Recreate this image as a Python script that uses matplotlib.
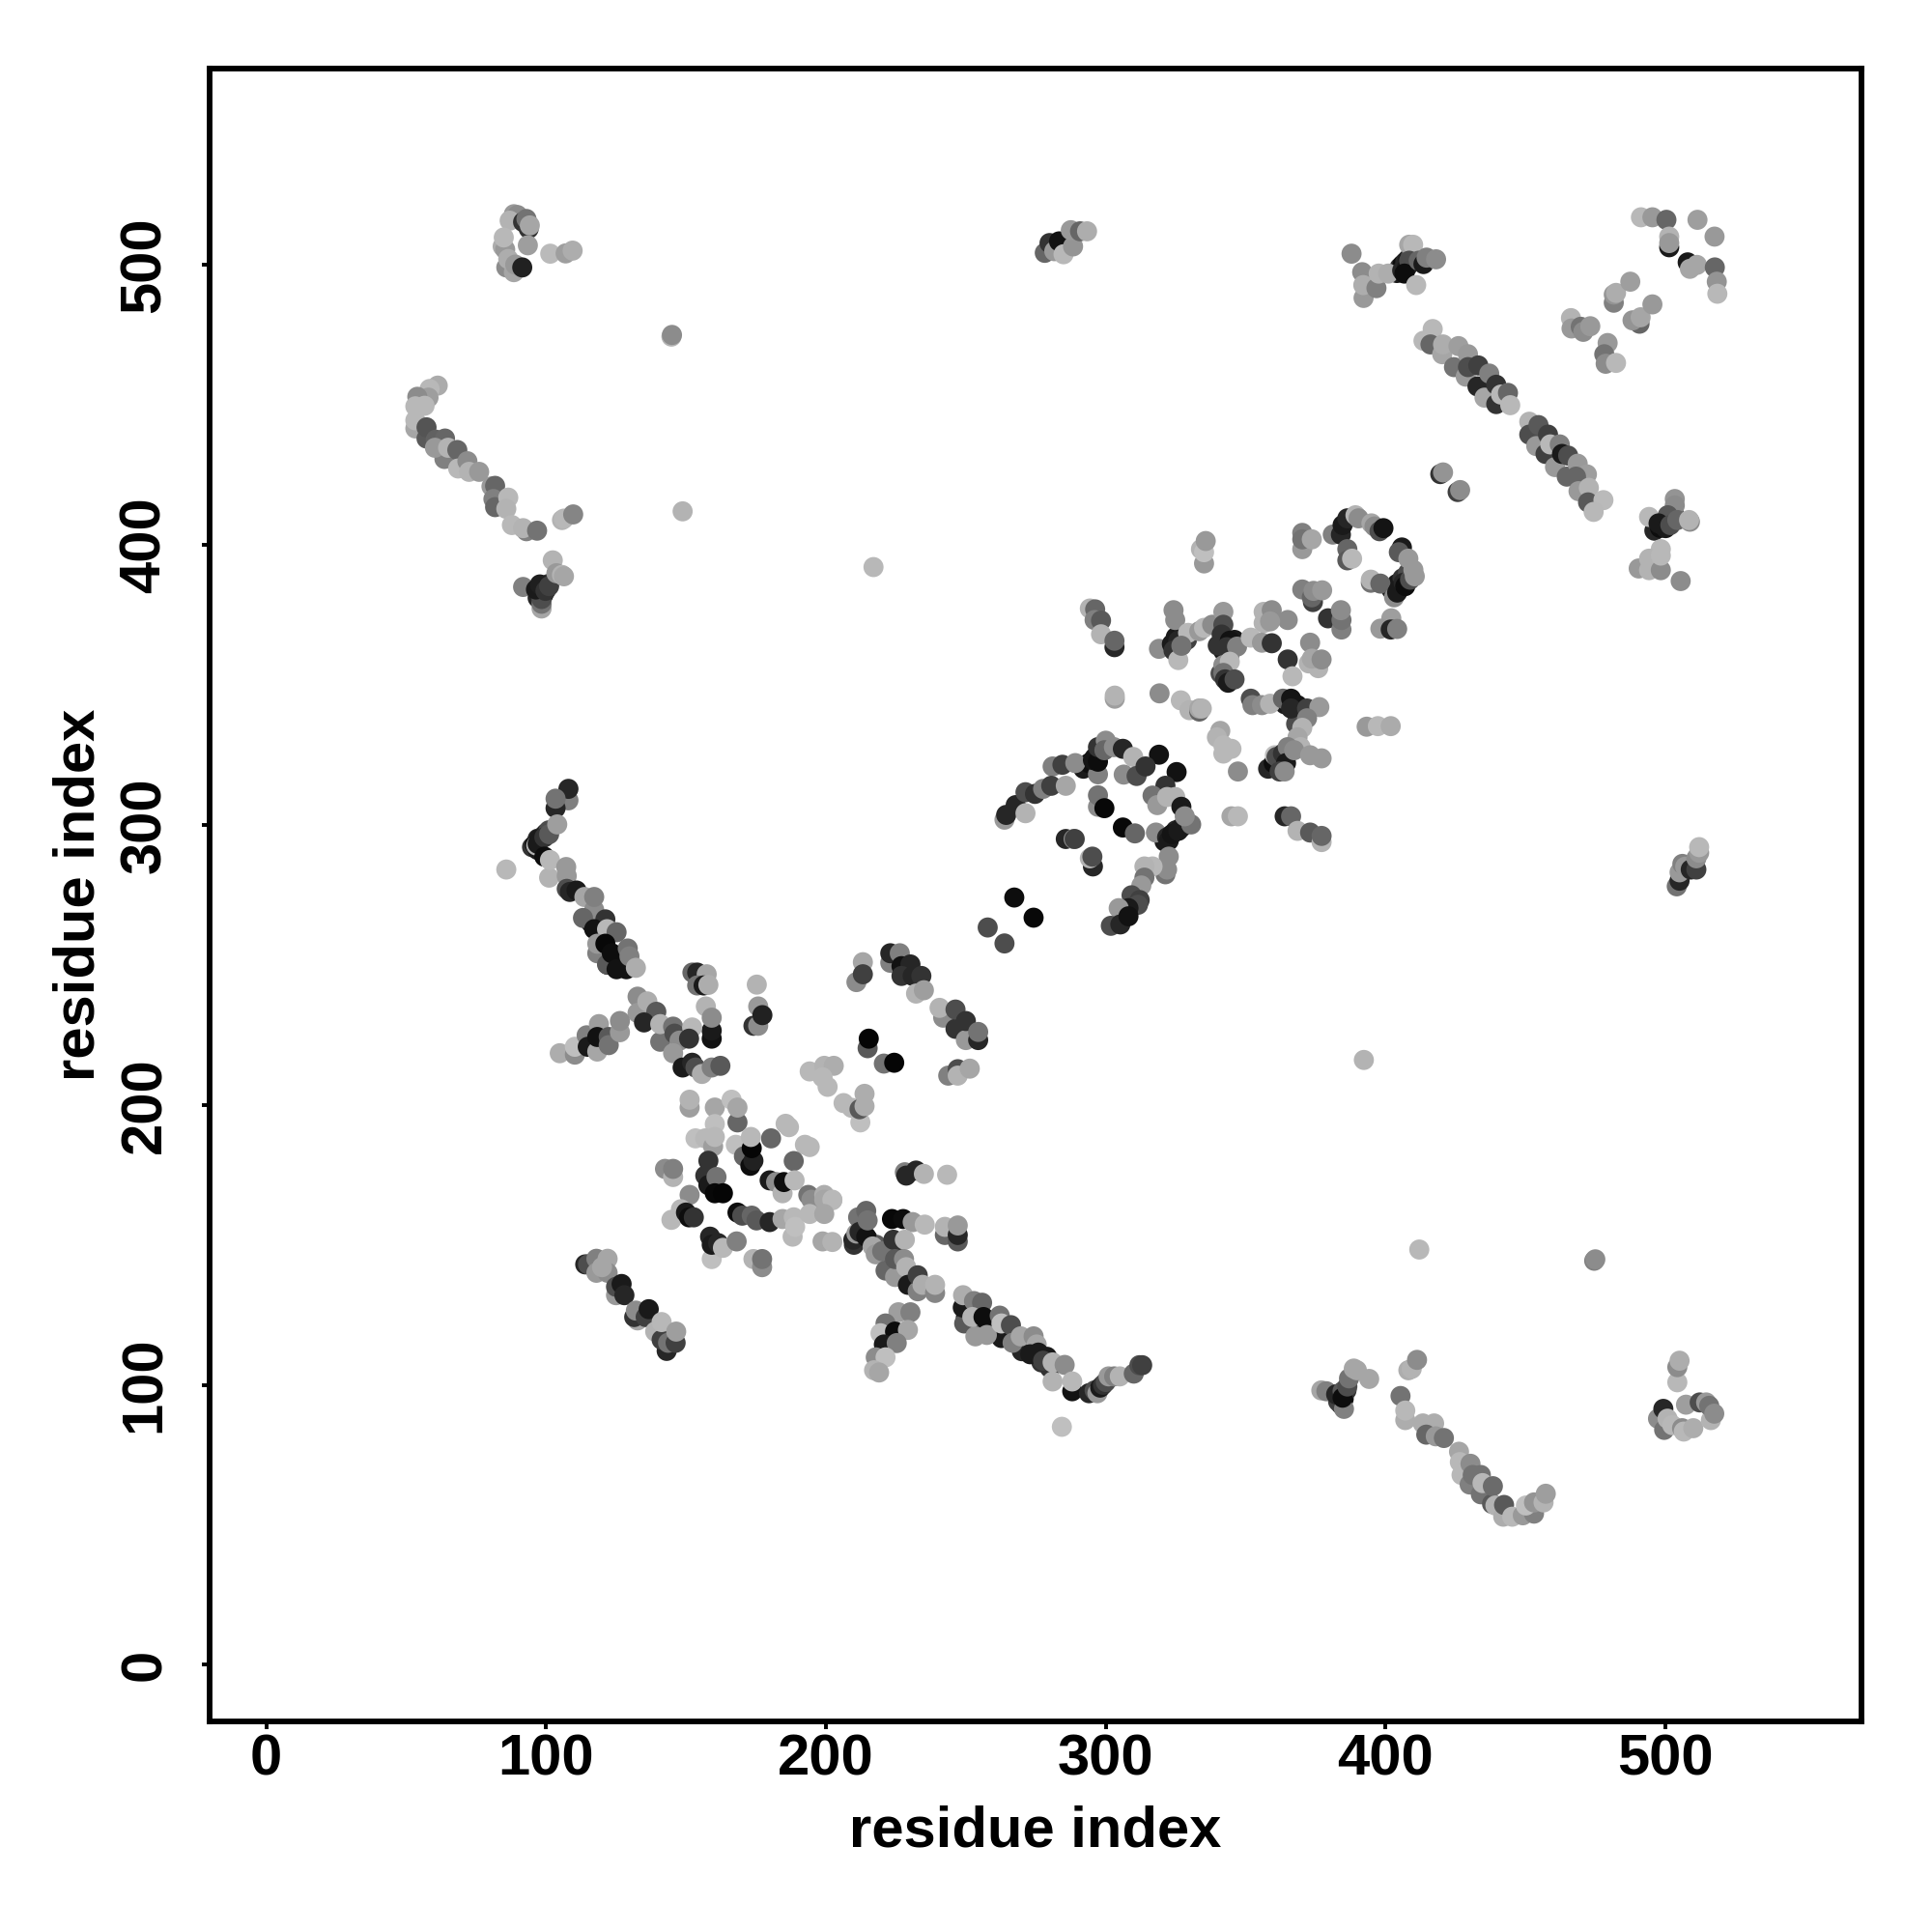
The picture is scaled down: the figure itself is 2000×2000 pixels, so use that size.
import matplotlib
matplotlib.use("Agg")
import matplotlib.pyplot as plt

plt.rcParams['font.family'] = ['Liberation Sans', 'DejaVu Sans']

# (residue i, residue j, grey level), grouped by region
dense_knots = [(95,292,.2),(96,293,.05),(97,295,.15),(98,295,.1),(99,296,.25),(100,297,.15),(101,298,.3),(97,291,.1),
    (404,497,.1),(405,499,.2),(406,500,.05),(407,501,.15),(408,502,.1),(409,503,.3),
    (496,405,.15),(498,406,.05),(499,407,.2),(501,408,.1),(502,410,.2),(503,411,.3),
    (97,381,.15),(99,382,.05),(100,384,.1),(101,386,.2),(402,384,.15),(404,386,.1),(406,388,.2),(408,390,.3),
    (321,294,.1),(323,296,.05),(325,298,.15),(327,299,.1),(329,301,.2),(358,320,.15),(360,322,.05),(362,323,.1),(364,325,.2),
    (364,343,.1),(366,342,.05),(368,340,.2),(370,339,.1),(368,336,.3),(292,320,.1),(294,322,.05),(296,324,.1),(298,326,.15),
    (342,362,.1),(344,360,.15),(340,364,.2),(346,366,.1),(341,354,.3),(325,367,.1),(327,364,.05),(329,366,.25),
    (384,93,.1),(385,95,.05),(386,98,.2),(383,94,.25),(120,254,.05),(122,250,.1),(124,252,.05),(126,250,.1),(116,265,.1),
    (210,150,.2),(213,155,.1),(215,152,.2),(218,150,.35),(222,148,.3),(225,146,.2),(250,124,.1),(255,121,.2),(258,122,.05),
    (260,120,.1),(264,118,.2),(270,112,.15),(277,108,.2),(280,106,.2),(279,110,.1)]
top_left = [(88.5,518,.6),(89.8,517.7,.55),(87,515.7,.7),(91.8,515.2,.2),(93.8,512.8,.2),(93,516.3,.45),(94.2,514,.65),
    (93.5,506.9,.62),(84.5,506.5,.68),(85.4,505.4,.6),(84.9,509.7,.72),(85.8,499,.55),(88.5,497.3,.65),(86.5,502,.68),
    (89,500,.6),(91.5,499,.13),(101.5,503.9,.73),(107,504,.62),(109.5,505,.68)]
lone_points = [(144.8,474.3,.7),(145,474.9,.55),(148.8,411.9,.7),(217,392,.72),(85.8,284,.72),(284.3,85,.75),
    (392.2,216,.7),(412,148.3,.72),(474.5,144.3,.5),(474.9,144.8,.55)]
left_strand = [(61.3,456.8,.67),(58.4,455.6,.72),(58,452.5,.62),(54,452.8,.55),(53.3,449.4,.72),(56.6,449.6,.72),
    (53.3,441.5,.65),(53.3,444.4,.72),(57.3,437.9,.35),(57.3,441.9,.33),(60.6,437.5,.38),(63.9,437.9,.4),(63.7,430.6,.5),
    (60.3,434.6,.6),(65,434.6,.7),(68.3,433.8,.4),(68.6,427.2,.72),(71.9,429.8,.55),(72.5,426,.7),(76.1,426,.6),
    (80.5,420.8,.6),(81.8,421,.4),(81.2,416.3,.5),(81.8,413.4,.4),(86.5,416.8,.72),(85.8,412.8,.7),(87.8,407,.72),
    (93,404.8,.5),(91.8,405.9,.7),(96.8,405,.45),(105.7,408.8,.7),(106.4,409.3,.72),(109.7,410.8,.52)]
left_knot = [(91.8,384.9,.5),(102.4,394.4,.7),(98.4,377.2,.65),(98.4,378.9,.45),(98.4,380.6,.3),(96.4,384,.1),
    (97.8,385.8,.12),(99.8,383.5,.2),(101.1,385.2,.25),(103.7,389.8,.6),(105.7,389.2,.7),(106.4,388.7,.65)]
top_mid = [(278.2,504.2,.4),(279.9,507.7,.2),(281.6,504.8,.6),(283.3,508.3,.07),(284.9,503.7,.72),(288.3,506.5,.58),
    (287.5,512.3,.6),(290.8,511.9,.4),(293.3,511.9,.68)]
top_right_a = [(387.8,503.9,.55),(391.6,497.3,.55),(392.1,488.1,.6),(392,492.7,.68),(396.7,491.6,.5),(397.5,496.8,.7),
    (400.9,496.8,.68),(408.4,507.1,.65),(409.8,507.1,.72),(405.9,497.9,.15),(407.6,499,.1),(408.4,501.4,.3),
    (406.7,496.8,.05),(410.9,492.7,.72),(411.8,501.4,.4),(413.5,500.2,.1),(414.6,502.5,.5),(418,501.9,.55)]
right_strand = [(413.5,472.8,.72),(416.8,477,.72),(416,471.5,.4),(420.2,468,.65),(420.5,471.5,.68),(426,470.9,.62),
    (424.4,463.4,.45),(429.4,468,.6),(428.6,460,.6),(429.4,463.4,.3),(433.1,464,.25),(432.8,456.5,.15),(437,461.1,.5),
    (435.3,452.5,.65),(439.5,457.1,.2),(439.5,450.2,.2),(441.2,453.6,.72),(443.7,454.2,.4),(444.5,449.8,.72),
    (451.3,443.9,.7),(451.3,439.3,.3),(454.6,442.7,.35),(453.8,435.2,.6),(458,439.3,.25),(457.1,432.4,.25),(458.8,435.8,.72),
    (462.2,435.8,.5),(460.5,427.7,.6),(463,432.4,.1),(465.2,431.8,.3),(464.7,424.3,.4),(468.6,428.9,.6),(471.9,425.1,.62),
    (468,424.3,.4),(468.9,419.1,.6),(472.6,420.3,.7),(472.3,415.1,.35),(477.8,415.9,.73),(474.3,411.7,.72),
    (419.5,425.2,.2),(420.5,425.8,.58),(425.7,418.8,.25),(426.6,419.5,.55)]
corner = [(491.2,516.9,.72),(495.3,516.9,.6),(500.3,516,.4),(511.4,516,.62),(517.5,510,.6),(501.3,506.2,.1),(501.3,510,.7),
    (501.3,507.7,.6),(507.9,500.8,.1),(508.7,498.5,.65),(511.2,499.9,.65),(517.6,499,.4),(518.3,493.9,.58),(518.5,489.6,.72),
    (466.2,480.9,.7),(466.4,477.2,.6),(469.7,477.8,.45),(470.6,476,.55),(473.1,478,.6),(479.3,472,.6),(478.1,468,.45),
    (478.6,464.6,.55),(482.3,464.9,.72),(481.5,486.4,.5),(481.5,489.3,.58),(482.3,489.9,.68),(487.4,493.9,.62),
    (490.7,478.9,.4),(488.2,480.1,.58),(491.1,481.2,.65),(495.3,485.8,.6)]
right_knot = [(494.1,409.9,.72),(503.3,416.3,.58),(503.3,414,.55),(500.8,410.5,.35),(497.5,407.6,.1),(500,405.9,.1),
    (501.7,407,.3),(504.2,408.8,.4),(508.7,408.2,.55),(508.4,408.8,.7),(498.3,398.4,.72),(490.4,391.5,.6),(494.1,395,.7),
    (494.1,390.9,.7),(498.3,390.9,.55),(498.3,396.1,.72),(505.4,387,.55)]
ring = [(335.1,393.3,.6),(334,398.4,.7),(335.1,397.3,.75),(335.7,401.3,.6),
    (370.2,404.2,.5),(370.2,398.4,.6),(370.2,401.9,.45),(373.6,401.9,.65),(381.1,403.6,.5),(384,403.6,.15),(384.6,407,.1),
    (386.3,409.4,.15),(389.2,410.5,.7),(390.3,409.4,.55),(394.9,407.6,.65),(396,406.5,.55),(397.8,404.8,.3),(399.2,405.9,.08),
    (386.3,398.4,.4),(386.3,394.4,.35),(388,395,.72),(394.7,386.4,.45),(394.7,387.5,.7),(398.1,386.1,.4),
    (403,381.2,.55),(404.1,382.9,.1),(404.7,384,.1),(406.4,386.4,.15),(407,385.2,.05),(408.7,387.5,.3),(405.8,399,.1),
    (404.7,397.3,.35),(408.1,395,.6),(409.9,391,.6),(410.4,388.7,.6)]
upper_mid = [(370.2,384,.5),(374,379.5,.25),(373.6,381.2,.4),(374.2,383.5,.55),(377.3,383.7,.6),(379.4,373.7,.2),
    (384.2,369.7,.5),(384.2,373.1,.45),(384,376.6,.55),(402,373.7,.62),(398.1,370,.6),(401.8,369.7,.15),(404.1,369.9,.5),
    (365,373.1,.55),(356.4,376,.7),(356.4,372,.7),(359.3,376.6,.55),(358.7,372.6,.6),(373,365,.55),(372.5,357.6,.7),
    (375.9,355.9,.7),(373.6,359.3,.65),(377.1,359,.55),(365,359,.2),(366.7,353,.72),
    (294.3,377.2,.7),(296.2,376.9,.4),(296,373.1,.5),(298.3,372.9,.35),(298.3,368,.7),(303.1,363.4,.15),(303.1,365.7,.4),
    (319,362.8,.55),(324.2,376.6,.55),(324.8,373.1,.55),(323.6,364.5,.1),(325.9,365.7,.15),(324.2,362.2,.2),(325.9,358.8,.72),
    (329.4,368.5,.72),(327,363.9,.45),(333.4,369.1,.6),(335.1,370.3,.72),(338,371.4,.55),(342,376,.6),(342,371.4,.3),
    (341.4,367.9,.2),(344.3,365.7,.07),(343.2,363.4,.2),(346.9,363.6,.5),(351.8,366.8,.72),(355.8,365,.6),(359.3,364.8,.2),
    (342,357,.55),(344.3,358.2,.72),(342,354.2,.45),(342.6,351.9,.2),(343.7,350.7,.1),(346,351.9,.3)]
mid_right = [(303.2,345,.62),(303.2,346.1,.7),(319.2,346.9,.55),(326.8,344.4,.72),(329.9,340.9,.7),(333.4,340.4,.4),
    (333.4,341.5,.65),(334.3,341.5,.7),(351.8,345,.3),(352.4,342.7,.5),(355.8,342.7,.55),(358.7,343.2,.7),(363.3,345,.4),
    (366.2,345,.08),(368.5,342.7,.08),(366.2,341.5,.15),(371.9,341.5,.25),(376.3,342,.6),(371.9,338,.5),(370.2,334.6,.7),
    (368.5,331.2,.65),(369.6,327.7,.7),(393.2,335,.6),(397.2,335.2,.72),(401.8,335.2,.67),(340.9,333.5,.65),(339.7,331.2,.7),
    (342,325.4,.72),(342,328.3,.72),(344.9,327.1,.72),(347.2,319,.55),(360.4,324.8,.75),(361,324.2,.3),(363.3,325.4,.2),
    (365,327.7,.5),(364.4,322,.1),(362.1,319,.25),(363.9,319,.55),(367.3,326.6,.55),(373,324.8,.6),(377.1,323.7,.6),
    (344.9,303,.65),(347.2,303,.72),(363.9,303,.15),(366.2,303,.4),(368.5,297.8,.7),(373,297.2,.35),(377.1,293.8,.7),(377.1,296,.4),
    (504,278,.45),(505,280,.15),(505,283,.6),(506,286,.5),(507,285,.6),(509,284,.15),(511,284,.25),(511,288,.55),(512,290,.6),(512,292,.72)]
diag_300 = [(263.8,301.8,.6),(264.4,303.5,.15),(267.8,307,.15),(271.3,304.1,.7),(271.3,311.6,.3),(274.7,311,.2),(277.6,312.8,.5),
    (281,320.8,.5),(284.5,321.4,.25),(280.5,313.9,.25),(285.7,313.9,.65),(289.1,322,.55),(297.2,318,.5),(295.4,323.1,.08),
    (297.2,322.5,.05),(297.2,327.7,.2),(300,330,.55),(299.5,326.6,.4),(302.9,327.7,.55),(306.1,327.1,.15),(309.8,324.2,.7),
    (319,325,.07),(306.4,317.9,.55),(311,317.4,.3),(314.2,320.8,.2),(325.3,318.8,.07),(321.3,313.9,.2),
    (297.2,306.4,.55),(297.2,310.5,.45),(299.5,305.9,.03),(285.7,294.9,.15),(288.5,294.9,.55),(288.9,294.9,.25),
    (295.4,285.1,.15),(294.3,288,.7),(295.2,288.6,.3),(306.1,299,.03),(310.4,296.9,.4),(317.9,297.2,.55),
    (316.7,310.4,.45),(318.4,307,.6),(321.9,309.9,.7),(324.8,309.9,.7),(327,306.4,.1),(321.9,295.5,.15),(322.5,294.3,.1),
    (323.6,296.6,.08),(325.9,297.8,.1),(328.2,300.1,.1),(330.5,300.1,.45),(328.2,303,.55),
    (321.3,282.3,.45),(321.9,284,.55),(322.5,288.6,.55),(316.7,285.1,.72),(313.8,285.1,.7),(313.8,281.1,.45),(312.7,278.3,.6),
    (309.2,274.8,.3),(312.1,273.1,.25),(311.5,271.4,.3),(308.1,270.2,.1),(304.6,270.2,.6),(301.8,263.9,.3),(305.2,264.4,.15),
    (308.1,267.3,.07),(267.3,274,.05),(274.2,266.8,.03),(257.8,263.3,.3),(263.8,257.6,.3)]
lower_left = [(108,308.7,.5),(108,312.8,.15),(103.4,305.9,.15),(103.4,309.3,.45),(96.5,292.6,.7),(97,293.2,.1),(97.6,294.9,.1),
    (99.4,295.5,.2),(101.1,296.6,.35),(104,300.1,.62),(99.4,288.6,.05),(101.1,281.1,.7),(101.4,287.4,.72),(107.2,284.9,.6),(107.4,281.7,.6),
    (107.4,277.1,.3),(108.5,276,.15),(110.9,276.5,.1),(113.7,274.2,.65),(117.2,269.6,.55),(117.2,274.2,.5),(113.2,266.7,.4),
    (121.2,266.2,.2),(117.2,262.7,.07),(121.8,262.7,.72),(125.2,261.6,.4),(118.3,254.1,.5),(118.3,257.5,.6),(121.2,257.5,.03),
    (121.8,250.1,.35),(123.5,254.1,.05),(125.2,248.4,.07),(129.2,255.8,.45),(128.7,248.4,.07),(129.8,253,.5),(132.1,248.9,.68),
    (152.3,247.2,.4),(154,247.2,.15),(157.4,246.6,.65),(154,242.6,.45),(156.3,242.6,.1),(158,242.8,.68),(175.3,242.9,.7),
    (174.1,228.2,.2),(175.8,228.2,.55),(175.8,235.1,.6),(177.3,232,.13),(157.1,235.1,.7),(159.2,223.6,.07),(159.2,226.5,.1),(159.2,231.1,.55),
    (132.7,238.6,.55),(132.7,232.8,.6),(136.2,236.9,.68),(139.4,233.2,.35),(135,229.4,.15),(140.8,222.5,.45),(140.8,228.8,.7),
    (145.4,227.9,.45),(145.9,225.4,.3),(147.7,222.9,.55),(152.2,227.6,.72),(151.1,223.6,.2),(145.4,218.4,.6),(148.8,213.3,.1),
    (152.2,215,.15),(153.4,213.3,.3),(155.7,211,.68),(159.2,213.3,.5),(162.3,213.9,.35),
    (104.9,218.4,.68),(110.3,217.9,.55),(110.3,220.7,.75),(114.5,224.8,.5),(114.9,220.7,.1),(118.3,219,.65),(118.9,228.8,.62),
    (118.3,224.2,.07),(122.4,224.2,.35),(122.4,221.3,.45),(126.4,225.9,.6),(126.4,229.9,.55)]
centre_top = [(210.9,243.8,.55),(213.2,250.9,.65),(213.2,246.6,.25),(223,250.7,.5),(223,254.1,.15),(226.4,254.1,.5),(227,249.5,.07),
    (230.2,250.1,.15),(227,246,.2),(231,246,.15),(234.1,246,.2),(232.2,239.7,.7),(235,240.9,.62),(241.9,231.1,.55),(240.6,234.6,.7),
    (246.3,227.1,.2),(246.3,234,.3),(250,223.1,.6),(250,229.9,.2),(254.4,223.1,.15),(254.4,226,.45),(214.9,220.2,.35),(215.3,223.6,.02),
    (220.7,214.7,.45),(224.4,215,.02),(243.7,210.4,.5),(247.1,212.7,.3),(247.1,210.4,.7),(251.4,212.9,.65),
    (194.2,211.9,.72),(199.4,213.9,.7),(202.8,213.9,.68),(198.8,209.8,.72),(200.6,206.4,.72),(206.3,200.6,.72),(209.2,198.9,.72),
    (212.3,193.7,.75),(212,198.4,.35),(213.8,199.5,.68),(213.8,203.9,.68)]
centre = [(151.3,199,.62),(151.3,201.8,.7),(160.3,199,.65),(166.3,201.8,.75),(168.4,193.7,.4),(168.4,199,.65),(160.3,193.1,.75),
    (153.4,188,.75),(156.9,188,.72),(159.7,185.1,.62),(160.3,188.5,.72),(167.8,185.7,.75),(185.6,193.2,.72),(186.8,192,.72),
    (180.4,188,.4),(192.5,185.7,.72),(194.2,184.9,.72),(188.5,179.9,.4),(170.7,181.6,.4),(173,178.2,.05),(174.1,180,.13),(173.5,184.5,.02),
    (173.2,188.5,.72),(158,180,.2),(142.5,177.1,.55),(145.4,174.2,.7),(145.4,177.1,.5),(156.9,174.7,.2),(158,171.3,.1),(160.9,174.2,.45),
    (160.3,168.4,.03),(163.2,168.4,.02),(179.9,173,.1),(182.2,172.4,.55),(184.5,168.4,.7),(185,172.4,.05),(188.8,173,.72),
    (193.7,167.8,.45),(194.8,166.1,.55),(199.4,167.8,.68),(202.3,165.9,.72),(228.2,175.9,.5),(228.7,174.7,.15),(232.2,176.5,.15),
    (235,175.3,.7),(243.3,175,.72),
    (151.3,167.8,.55),(148.2,162.7,.72),(144.8,158.9,.72),(150,161.5,.1),(151.1,159.8,.05),(152.8,159.8,.2),(159.2,144.9,.75),
    (158.6,152.9,.15),(159.2,150,.1),(161.5,150.6,.15),(163.2,148.9,.72),(168.1,151.2,.5),(174.1,144.9,.7),(177.2,142,.55),(177.2,144.9,.45),
    (168.4,161.5,.05),(170.1,160.4,.3),(173.5,160.4,.4),(175.2,158.7,.35),(179.9,158.1,.15),(184.5,159.2,.65),(188.1,152.9,.72),
    (188.5,159.8,.72),(189,156.4,.75),(194.2,161,.72),(199.4,166.1,.65),(202.3,166.1,.72),(199.4,161,.65),(198.8,151.2,.65),(202.3,151,.7)]
lower_arm = [(209.8,151.8,.15),(210.9,154,.6),(211.5,159.8,.45),(212,154.6,.15),(214.4,152.9,.07),(214.4,162.1,.4),(214.9,158.7,.45),
    (216.7,149.4,.65),(217.8,146.6,.6),(220.1,147.7,.45),(224.1,151.8,.2),(223.6,159.2,.03),(227.6,159.2,.05),(231,158.1,.6),
    (228.2,151.8,.7),(235.3,157.2,.72),(221.3,140.8,.4),(224.7,138.5,.6),(224.7,144.9,.35),(227.9,144.9,.55),(228.7,142,.7),
    (229.3,135.7,.1),(232.8,133.4,.5),(232.8,139.1,.25),(234.5,135.7,.68),(239,132.8,.52),(239,135.7,.7),
    (242.5,153.5,.4),(242.5,156.4,.7),(247.1,151.2,.35),(247.1,153.5,.15),(247.1,156.9,.6),
    (225.9,125.9,.62),(230.2,125.9,.5),(221.3,121.9,.45),(219.5,118.4,.75),(224.7,119,.05),(229.3,119.6,.65),(220.7,114.4,.1),
    (225.3,114.9,.5),(217.8,109.8,.55),(221.3,109.8,.75),(217.2,105.2,.7),(219,104.4,.65),
    (249.4,121.9,.35),(248.9,127.6,.1),(249,132,.68),(252.9,129.9,.5),(255.8,129.3,.4),(253.4,117.3,.6),(252.3,124.2,.7),(256.3,124.2,.05),
    (262.7,116.7,.1),(257.5,117.8,.6),(262.1,124.7,.45),(262.7,121.9,.75),(266.1,121.3,.3),(266.7,115,.5),(269.6,117.3,.65),
    (274.2,117.3,.55),(275.3,114.4,.65),(273,110.9,.1),(275.9,111.5,.1),(277.6,108.6,.25),(281,108,.7),(281,101.2,.7),(285.3,107.1,.55),
    (288,97.7,.07),(288,101.2,.72),(294,97,.15),(296,98,.3),(297,97,.6),(298,99,.1),(299,100,.2),(300,101,.3),(301,103,.6),(303,103,.5),
    (305,103,.7),(310,104,.4),(312,107,.3),(313,107,.25)]
bottom_left = [(114,143,.15),(115,143,.3),(118,145,.5),(122,145,.65),(118,140,.6),(122,140,.55),(120,142,.65),(125,132,.6),(125,135,.3),
    (127,136,.1),(128,132,.15),(132.7,123,.65),(131.5,124.2,.2),(132.1,126.5,.55),(135.6,124.2,.25),(136.7,127,.1),(139,119,.7),
    (143.1,112.1,.15),(141.3,116.1,.25),(143.6,115,.45),(146.3,115,.25),(141.3,122.4,.72),(146.5,119,.62)]
bottom_right = [(377,98,.65),(378.8,97.7,.5),(385.1,91.4,.5),(382.3,96.6,.15),(384.6,97.7,.35),(384.6,95.4,.05),(386.3,99.4,.3),
    (386.9,102.3,.45),(388.6,105.8,.65),(389.7,105.2,.65),(394.1,102.1,.65),(408.1,105.2,.68),(409.3,105.7,.7),(411.2,108.9,.55),
    (407,87.4,.68),(405.3,96,.45),(407,90.8,.72),(413.3,86.2,.68),(417.3,86.2,.68),(414.5,82.2,.4),(417.9,81.6,.6),(420.8,81,.45),
    (426.2,76.1,.65),(427.1,67.8,.72),(426.5,72.4,.72),(430.3,71.8,.55),(430,64.4,.5),(431.1,67.8,.45),(434,60.9,.45),(434,67.8,.45),
    (434.6,64.9,.72),(438,57.5,.35),(438.3,63.8,.42),(439.2,56.9,.7),(442,52.9,.68),(442.3,57.1,.35),(445.2,52.9,.72),(449,53.4,.6),
    (453,54,.5),(450.1,56.9,.75),(453,58,.58),(456.4,58,.7),(457.2,61.1,.62),
    (504.2,100.9,.72),(504.2,106.3,.55),(505,108.6,.68),(497.3,87.9,.55),(499.5,83.9,.45),(499.2,91.4,.15),(500.7,87.9,.7),
    (502.4,85.6,.72),(505.9,84.5,.55),(506.5,83.3,.72),(509.9,84.5,.68),(507.3,92.9,.62),(512.2,93.7,.3),(516.2,87.4,.7),
    (514.5,93.7,.6),(515.6,92.5,.45),(517.4,89.7,.55)]

regions = [dense_knots, top_left, lone_points, left_strand, left_knot, top_mid, top_right_a, right_strand, corner, right_knot, ring,
           upper_mid, mid_right, diag_300, lower_left, centre_top, centre, lower_arm, bottom_left, bottom_right]

tick_values = [0, 100, 200, 300, 400, 500]

fig = plt.figure(figsize=(10, 10), dpi=200)
ax = fig.add_axes([217/2000, 1 - 1782/2000, 1710/2000, 1711/2000])

for region in regions:
    xs = [p[0] for p in region]
    ys = [p[1] for p in region]
    cores = [str(p[2]) for p in region]
    ax.scatter(xs, ys, s=56, c=cores, linewidths=0)

ax.set_xlim(-20.2, 570)
ax.set_ylim(-20.2, 570)
ax.set_xticks(tick_values)
ax.set_yticks(tick_values)
ax.tick_params(length=3, width=1.4, labelsize=21.5)
ax.tick_params(axis='x', pad=1.5)
ax.tick_params(axis='y', pad=11)
for lab in ax.get_xticklabels():
    lab.set_fontweight('bold')
for lab in ax.get_yticklabels():
    lab.set_fontweight('bold')
    lab.set_rotation(90)
    lab.set_va('center')
ax.set_xlabel("residue index", fontsize=21.5, fontweight='bold', labelpad=7)
ax.set_ylabel("residue index", fontsize=21.5, fontweight='bold', labelpad=5)
for spine in ax.spines.values():
    spine.set_linewidth(2.1)

fig.savefig("out.png", dpi=200)
